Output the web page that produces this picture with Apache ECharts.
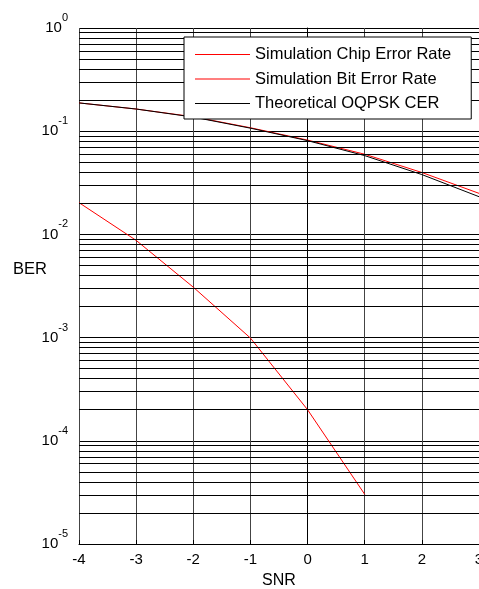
<!DOCTYPE html>
<html>
<head>
<meta charset="utf-8">
<style>
  html, body { margin: 0; padding: 0; background: #fff; }
  #chart { width: 479px; height: 589px; }
</style>
<script src="https://cdn.jsdelivr.net/npm/echarts@6/dist/echarts.min.js"></script>
</head>
<body>
<div id="chart"></div>
<script>
const snr = [-4, -3, -2, -1, 0, 1, 2, 3]
const chipErrorRate = [0.188, 0.164, 0.138, 0.108, 0.082, 0.0598, 0.0398, 0.025]
const bitErrorRate = [0.0203, 0.00875, 0.00308, 0.00099, 0.0002, 0.0000303]
const theoreticalCer = [0.188, 0.164, 0.137, 0.107, 0.081, 0.058, 0.038, 0.0232]
const decades = [-5, -4, -3, -2, -1]
const minorSteps = [2, 3, 4, 5, 6, 7, 8, 9]

const font = 'Liberation Sans, Arial, sans-serif'

// horizontal grid lines at 2..9 of every decade (log axis only gives decades)
const minorLines = []
decades.forEach(e => {
    minorSteps.forEach(k => {
        minorLines.push({ yAxis: +(k + 'e' + e) })
    })
})

const pairs = (xs, ys) => ys.map((y, i) => [xs[i], y])

const chart = echarts.init(document.getElementById('chart'))

const option = {
    animation: false,
    backgroundColor: '#fff',
    textStyle: { fontFamily: font },
    grid: {
        left: 79,
        top: 28,
        right: 0,
        bottom: 45,
        outerBoundsMode: 'none',
        containLabel: false
    },
    legend: {
        data: [
            { name: 'Simulation Chip Error Rate', icon: 'rect' },
            { name: 'Simulation Bit Error Rate', icon: 'rect' },
            { name: 'Theoretical OQPSK CER', icon: 'rect' }
        ],
        orient: 'vertical',
        left: 184,
        top: 37,
        z: 20,
        padding: [9, 20, 7, 11],
        itemWidth: 55,
        itemHeight: 1,
        itemGap: 7.5,
        borderColor: '#000',
        borderWidth: 1,
        borderRadius: 0,
        backgroundColor: '#fff',
        textStyle: {
            fontFamily: font,
            fontSize: 16.5,
            color: '#000'
        }
    },
    xAxis: {
        type: 'value',
        min: -4,
        max: 3,
        interval: 1,
        name: 'SNR',
        nameLocation: 'middle',
        nameGap: 29,
        nameTextStyle: { fontFamily: font, fontSize: 16, color: '#000' },
        axisLine: { show: true, lineStyle: { color: '#000', width: 1 } },
        axisTick: { show: true, inside: true, length: 4, lineStyle: { color: '#000' } },
        axisLabel: { fontFamily: font, fontSize: 15, color: '#000', margin: 8 },
        splitLine: { show: true, lineStyle: { color: '#444', width: 1 } }
    },
    yAxis: {
        type: 'log',
        logBase: 10,
        min: 1e-5,
        max: 1,
        axisLine: { show: true, lineStyle: { color: '#000', width: 1 } },
        axisTick: { show: false },
        axisLabel: {
            margin: 11,
            formatter: v => '{b|10}{s|' + Math.round(Math.log10(v)) + '}',
            rich: {
                b: { fontFamily: font, fontSize: 15, color: '#000', lineHeight: 31, verticalAlign: 'middle' },
                s: { fontFamily: font, fontSize: 11, color: '#000', lineHeight: 11, verticalAlign: 'top' }
            }
        },
        splitLine: { show: true, lineStyle: { color: '#000', width: 1 } }
    },
    graphic: [{
        type: 'text',
        left: 13,
        top: 261,
        style: { text: 'BER', fontFamily: font, fontSize: 16.5, fill: '#000' }
    }],
    series: [
        {
            name: 'Simulation Chip Error Rate',
            type: 'line',
            symbol: 'none',
            data: pairs(snr, chipErrorRate),
            lineStyle: { color: '#ff0000', width: 1 },
            itemStyle: { color: '#ff0000' }
        },
        {
            name: 'Simulation Bit Error Rate',
            type: 'line',
            symbol: 'none',
            data: pairs(snr, bitErrorRate),
            lineStyle: { color: '#ff0000', width: 1 },
            itemStyle: { color: '#ff0000' }
        },
        {
            name: 'Theoretical OQPSK CER',
            type: 'line',
            symbol: 'none',
            data: pairs(snr, theoreticalCer),
            lineStyle: { color: '#000', width: 1 },
            itemStyle: { color: '#000' },
            markLine: {
                silent: true,
                symbol: 'none',
                precision: 12,
                label: { show: false },
                lineStyle: { color: '#000', width: 1, type: 'solid' },
                emphasis: { disabled: true },
                data: minorLines,
                animation: false
            }
        }
    ]
}

chart.setOption(option)
</script>
</body>
</html>
